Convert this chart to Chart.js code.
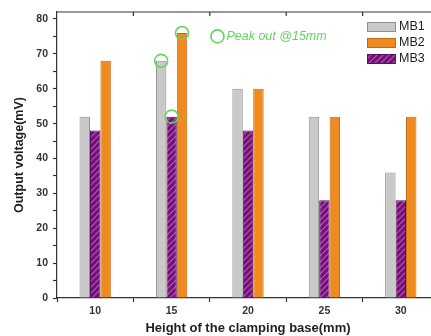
<!DOCTYPE html>
<html>
<head>
<meta charset="utf-8">
<script src="https://cdn.jsdelivr.net/npm/chart.js@4/dist/chart.umd.min.js"></script>
<style>
  html, body { margin: 0; padding: 0; background: #fff; overflow: hidden; }
  #wrap { width: 440px; height: 336px; }
</style>
</head>
<body>
<div id="wrap"><canvas id="bar-chart" width="440" height="336"></canvas></div>
<script>
// values
const heights = ['10', '15', '20', '25', '30'];
const mb1 = [52, 68, 60, 52, 36];
const mb2 = [68, 76, 60, 52, 52];
const mb3 = [48, 52, 48, 28, 28];
const yTicks = [0, 5, 10, 15, 20, 25, 30, 35, 40, 45, 50, 55, 60, 65, 70, 75, 80];
const peakIndex = 1; // 15 mm
const peakText = 'Peak out @15mm';

function hatch(){
    const c = document.createElement('canvas');
    c.width = 6; c.height = 6;
    const g = c.getContext('2d');
    g.fillStyle = '#6c1272';
    g.fillRect(0, 0, 6, 6);
    g.strokeStyle = '#b448b4';
    g.lineWidth = 1.3;
    g.beginPath();
    g.moveTo(-1, 7); g.lineTo(7, -1);
    g.moveTo(-4, 4); g.lineTo(4, -4);
    g.moveTo(2, 10); g.lineTo(10, 2);
    g.stroke();
    return g.createPattern(c, 'repeat');
}
const purple = hatch();

const green = '#63d463';
const font = '"Liberation Sans", Arial, sans-serif';

const extras = {
    id: 'extras',
    afterDatasetsDraw(chart){
        const ctx = chart.ctx;
        const area = chart.chartArea;
        const x = chart.scales.x;
        const y = chart.scales.y;
        ctx.save();
        // top frame with inward ticks
        ctx.strokeStyle = '#333';
        ctx.lineWidth = 1.2;
        ctx.beginPath();
        ctx.moveTo(area.left, area.top);
        ctx.lineTo(area.right, area.top);
        for (let i = 0; i < heights.length - 1; i++){
            const px = x.getPixelForValue(i + 0.5);
            ctx.moveTo(px, area.top);
            ctx.lineTo(px, area.top + 4);
        }
        ctx.stroke();

        // peak circles on the 15 mm bars
        ctx.strokeStyle = green;
        ctx.lineWidth = 1.6;
        chart.data.datasets.forEach((ds, di) => {
            const bar = chart.getDatasetMeta(di).data[peakIndex];
            ctx.beginPath();
            ctx.arc(bar.x, bar.y, 6.5, 0, Math.PI * 2);
            ctx.stroke();
        });
        // annotation
        const ax = x.getPixelForValue(1.6);
        const ay = y.getPixelForValue(75);
        ctx.beginPath();
        ctx.arc(ax, ay, 6.5, 0, Math.PI * 2);
        ctx.stroke();
        ctx.fillStyle = green;
        ctx.font = 'italic 12.5px ' + font;
        ctx.textBaseline = 'middle';
        ctx.fillText(peakText, ax + 9, ay);

        // legend
        const items = [
            ['MB1', '#c9c9c9', '#8f8f8f'],
            ['MB2', '#ef8a1e', '#c06a10'],
            ['MB3', purple, '#5a0e60']
        ];
        ctx.font = '12.5px ' + font;
        ctx.textBaseline = 'middle';
        items.forEach((it, i) => {
            const ly = 27 + i * 16;
            ctx.fillStyle = it[1];
            ctx.fillRect(367, ly - 5, 29, 10);
            ctx.strokeStyle = it[2];
            ctx.lineWidth = 1;
            ctx.strokeRect(367.5, ly - 4.5, 28, 9);
            ctx.fillStyle = '#222';
            ctx.fillText(it[0], 399, ly);
        });
        ctx.restore();
    }
};

const ctx = document.getElementById('bar-chart').getContext('2d');
const myChart = new Chart(ctx, {
    type: 'bar',
    data: {
        labels: heights,
        datasets: [
            { label: 'MB1', data: mb1, backgroundColor: '#c9c9c9', borderColor: '#8f8f8f', borderWidth: 1 },
            { label: 'MB3', data: mb3, backgroundColor: purple, borderColor: '#5a0e60', borderWidth: 1 },
            { label: 'MB2', data: mb2, backgroundColor: '#ef8a1e', borderColor: '#c06a10', borderWidth: 1 }
        ]
    },
    options: {
        responsive: false,
        animation: false,
        layout: { padding: { top: 12, right: 1, left: 0, bottom: 0 } },
        datasets: { bar: { barPercentage: 1.0, categoryPercentage: 0.41 } },
        plugins: { legend: { display: false }, tooltip: { enabled: false } },
        scales: {
            x: {
                afterFit: s => { s.height = 38; },
                grid: { offset: true, drawOnChartArea: false, tickLength: 4, color: '#333', tickWidth: 1.2 },
                border: { color: '#333', width: 1.2 },
                ticks: { color: '#333', padding: 3, font: { size: 10.5, weight: 'bold', family: font } },
                title: { display: true, text: 'Height of the clamping base(mm)', color: '#222', padding: { top: 0, bottom: 0 },
                         font: { size: 13, weight: 'bold', family: font } }
            },
            y: {
                min: 0, max: 82,
                afterFit: s => { s.width = 57; },
                afterBuildTicks: s => { s.ticks = yTicks.map(v => ({ value: v })); },
                grid: { drawOnChartArea: false, tickLength: 4, color: '#333', tickWidth: 1.2 },
                border: { color: '#333', width: 1.2 },
                ticks: { autoSkip: false, color: '#333', padding: 5,
                         callback: v => (v % 10 === 0 ? v : ''),
                         font: { size: 10.5, weight: 'bold', family: font } },
                title: { display: true, text: 'Output voltage(mV)', color: '#222', padding: { top: 12, bottom: 0 },
                         font: { size: 12.5, weight: 'bold', family: font } }
            }
        }
    },
    plugins: [extras]
});
</script>
</body>
</html>
